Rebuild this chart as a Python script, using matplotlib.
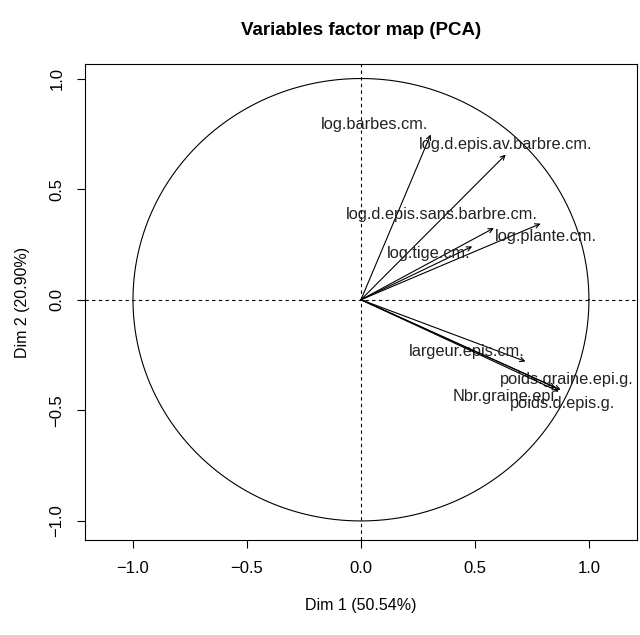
import numpy as np
import matplotlib.pyplot as plt

plt.rcParams['font.family'] = ['Liberation Sans', 'DejaVu Sans']

# coordonnees des variables sur Dim 1 / Dim 2
variables = ['log.barbes.cm.', 'log.d.epis.av.barbre.cm.', 'log.d.epis.sans.barbre.cm.',
             'log.plante.cm.', 'log.tige.cm.', 'largeur.epis.cm.',
             'poids.graine.epi.g.', 'Nbr.graine.epi.', 'poids.d.epis.g.']
dim1 = [0.306, 0.635, 0.583, 0.788, 0.488, 0.722, 0.876, 0.854, 0.868]
dim2 = [0.747, 0.656, 0.324, 0.344, 0.241, -0.279, -0.407, -0.398, -0.415]

# decalage des etiquettes (repel)
lab_dx = [-0.246, 0.0, -0.230, 0.022, -0.190, -0.259, 0.025, -0.216, 0.015]
lab_dy = [0.045, 0.045, 0.061, -0.057, -0.033, 0.045, 0.045, -0.039, -0.056]

fig = plt.figure(figsize=(6.4, 6.35), dpi=100)
ax = fig.add_axes([0.133, 0.150, 0.862, 0.749])

t = np.linspace(0, 2 * np.pi, 400)
ax.plot(np.cos(t), np.sin(t), color='black', lw=0.8)
ax.axhline(0, color='black', lw=0.8, ls=(0, (3, 3)))
ax.axvline(0, color='black', lw=0.8, ls=(0, (3, 3)))

for i in range(len(variables)):
    ax.annotate('', xy=(dim1[i], dim2[i]), xytext=(0, 0),
                arrowprops=dict(arrowstyle='->', color='black', lw=0.8,
                                shrinkA=0, shrinkB=0, mutation_scale=8))
    ax.text(dim1[i] + lab_dx[i], dim2[i] + lab_dy[i], variables[i],
            ha='center', va='center', fontsize=11.8, color='#222222')

ax.set_xlim(-1.21, 1.21)
ax.set_ylim(-1.085, 1.065)
ax.set_xticks([-1.0, -0.5, 0.0, 0.5, 1.0])
ax.set_yticks([-1.0, -0.5, 0.0, 0.5, 1.0])
ax.set_xticklabels(['\u22121.0', '\u22120.5', '0.0', '0.5', '1.0'])
ax.set_yticklabels(['\u22121.0', '\u22120.5', '0.0', '0.5', '1.0'], rotation=90, va='center')
ax.tick_params(labelsize=12, length=6, pad=9)
ax.set_xlabel('Dim 1 (50.54%)', fontsize=11.5, labelpad=16)
ax.set_ylabel('Dim 2 (20.90%)', fontsize=11.5, labelpad=14)
ax.set_title('Variables factor map (PCA)', fontsize=13.5, fontweight='bold', pad=21)
for s in ax.spines.values():
    s.set_linewidth(0.8)

fig.savefig('out.png', dpi=100)
